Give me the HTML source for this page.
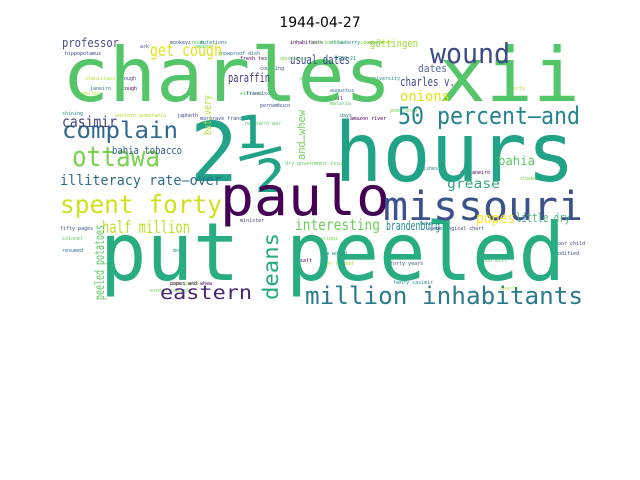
<!DOCTYPE html>
<html><head><meta charset="utf-8"><style>
html,body{margin:0;padding:0;background:#fff;width:640px;height:480px;overflow:hidden}
svg text{font-family:"DejaVu Sans Mono","Liberation Mono",monospace}
</style></head><body>
<svg width="640" height="480" viewBox="0 0 640 480">
<text x="320" y="27" text-anchor="middle" style="font-family:'DejaVu Sans','Liberation Sans',sans-serif" font-size="14" fill="#000">1944-04-27</text>
<g id="cloud"></g>
</svg>
<script>
const words = ["charles xii","2½ hours","put peeled","paulo","missouri","million inhabitants","50 percent—and","wound","complain","ottawa","spent forty","eastern","half million","illiteracy rate—over","casimir","bahia tobacco","get cough","professor","usual dates","paraffin","göttingen","dates","charles v.","onions","interesting","grease","popes","little dry","brandenburg","bahia","deans","peeled potatoes","but…very","and…whew"];
const xs = [62,190,100,220,383,305,398,430,62,72,60,160,102,60,62,112,150,62,290,228,370,418,400,400,295,447,476,516,386,498,278,104,211,305];
const ys = [101,181,280,215,220,304,124,63,138,166,213,299,233,185,127,154,56,47,64,82,47,72,86,101,230,188,223,222,230,165,300,300,135,160];
const sizes = [75,82,80,54,40,24,24,28,23,28,25,19,17,14,15,11,17,12,12,12,11,11,12,14,15,13,14,12,12,12,21,13,11,11];
const lens = [518,385,465,170,200,278,182,80,116,88,162,92,88,162,55,70,72,57,60,42,48,29,55,50,85,53,39,54,54,37,67,75,40,50];
const rot = [0,0,0,0,0,0,0,0,0,0,0,0,0,0,0,0,0,0,0,0,0,0,0,0,0,0,0,0,0,0,1,1,1,1];
const colors = ["#54c568","#20a386","#27ad81","#440154","#3b528b","#2a7b8e","#25858e","#3e4a89","#31688e","#7ad151","#d0e11c","#482475","#bddf26","#2f6b8e","#414487","#355f8d","#dde318","#46508a","#3e4c8a","#443a83","#a0da39","#5b6b99","#3f4889","#dde318","#6ece58","#35a77c","#fde725","#4ab87a","#228c8d","#5cc863","#25aa80","#5ec962","#b5de2b","#6ece58"];
const smallWords = ["monkeys","noah","mutations","inhabitants","last battle","strawberry compote","cough drops","hippopotamus","ark","amazon","snowproof dish","fresh test","abundance","1700-21","stanislaus","dough","courting","william","janeiro","cough","enough","university","whites","francisca","pernambuco","malaria","augustus","brasil","pomerania","shining","eastern pomerania","japheth","margrave francisca","northern war","days","amazon river","sao paulo","mold","forty","minister","fifty pages","colonel","resumed","salt","mississippi","henry casimir","chart","genealogical chart","forty years","food mill","bake","popes and whew","ernest casimir","new world","soon joined","poor child","modified","dry government-issue","dishes","de janeiro","chadeway"];
const sx=[170,192,200,290,310,330,360,65,140,195,218,240,280,335,85,121,260,240,90,122,300,370,82,246,260,330,330,325,390,62,115,177,200,245,340,350,172,173,510,240,60,62,62,300,305,394,500,430,390,480,420,170,150,320,320,555,555,285,420,460,520];
const sy=[44,44,44,44,44,44,44,55,48,48,55,60,60,60,80,80,70,95,90,90,80,80,95,95,107,105,92,100,112,115,117,117,120,125,117,120,285,252,90,222,230,240,252,262,240,284,290,230,265,262,225,285,292,255,265,245,255,165,170,174,180];
const g=document.getElementById('cloud');
const NS='http://www.w3.org/2000/svg';
const pal=["#3b528b","#5ec962","#2a788e","#440154","#7ad151","#21918c","#b5de2b","#414487"];
smallWords.forEach((w,i)=>{
  const t=document.createElementNS(NS,'text');
  
  
  t.setAttribute('x',sx[i]);t.setAttribute('y',sy[i]);
  t.setAttribute('font-size',5);t.setAttribute('fill',pal[i%pal.length]);
  t.textContent=w;g.appendChild(t);
});
words.forEach((w,i)=>{
  const t=document.createElementNS(NS,'text');
  
  
  t.setAttribute('x',xs[i]);t.setAttribute('y',ys[i]);
  t.setAttribute('font-size',sizes[i]);
  t.setAttribute('fill',colors[i]);
  t.setAttribute('textLength',lens[i]);
  t.setAttribute('lengthAdjust','spacingAndGlyphs');
  if(rot[i]) t.setAttribute('transform','rotate(-90 '+xs[i]+' '+ys[i]+')');
  t.textContent=w;g.appendChild(t);
});
</script>
</body></html>
